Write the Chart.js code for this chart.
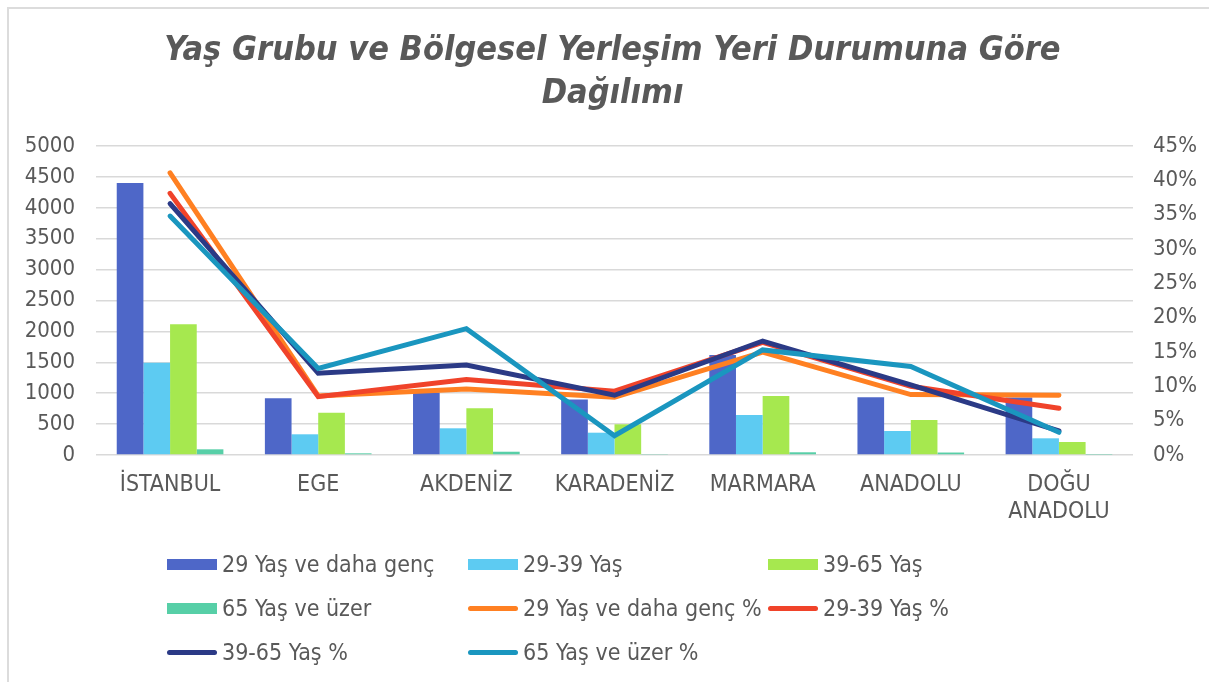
<!DOCTYPE html>
<html>
<head>
<meta charset="utf-8">
<script src="https://cdn.jsdelivr.net/npm/chart.js@4.4.1/dist/chart.umd.min.js"></script>
<style>
  html, body { margin: 0; padding: 0; background: #ffffff; }
  #wrap { position: relative; width: 1209px; height: 682px; overflow: hidden; }
  #frame { position: absolute; left: 7px; top: 7px; width: 1300px; height: 800px; border: 2px solid #dcdcdc; box-sizing: border-box; }
  #c { position: absolute; left: 0; top: 0; }
  #legend { position: absolute; left: 0; top: 0; width: 1209px; height: 682px; pointer-events: none;
            font-family: "DejaVu Sans Condensed", "DejaVu Sans", sans-serif; font-size: 23px; color: #595959; }
  .li { position: absolute; display: flex; align-items: center; height: 26px; white-space: nowrap; }
  .sw { width: 50px; margin-right: 5px; }
</style>
</head>
<body>
<div id="wrap">
  <div id="frame"></div>
  <canvas id="c" width="1209" height="682"></canvas>
  <div id="legend"></div>
</div>
<script>
const categories = ['İSTANBUL', 'EGE', 'AKDENİZ', 'KARADENİZ', 'MARMARA', 'ANADOLU', ['DOĞU', 'ANADOLU']];

const countYoung   = [4400, 917, 1010, 900, 1620, 934, 930];
const count29to39  = [1494, 335, 432, 361, 647, 388, 270];
const count39to65  = [2115, 685, 755, 497, 955, 566, 210];
const count65plus  = [92, 27, 53, 8, 44, 40, 6];

const pctYoung     = [41.1, 8.6, 9.6, 8.4, 15.0, 8.8, 8.7];
const pct29to39    = [38.1, 8.5, 11.0, 9.3, 16.4, 10.0, 6.8];
const pct39to65    = [36.6, 11.9, 13.1, 8.7, 16.6, 10.2, 3.5];
const pct65plus    = [34.8, 12.6, 18.4, 2.8, 15.3, 12.9, 3.3];

const leftTicksMax = 5000, leftStep = 500;
const rightTicksMax = 45, rightStep = 5;

const seriesNames = ['29 Yaş ve daha genç', '29-39 Yaş', '39-65 Yaş', '65 Yaş ve üzer',
                     '29 Yaş ve daha genç %', '29-39 Yaş %', '39-65 Yaş %', '65 Yaş ve üzer %'];

const textColor = '#595959';
const fontFam = '"DejaVu Sans Condensed", "DejaVu Sans", sans-serif';

function barDs(label, data, color) {
  return { type: 'bar', label, data, backgroundColor: color, borderWidth: 0,
           yAxisID: 'y', order: 10, barPercentage: 1.0, categoryPercentage: 0.72 };
}
function lineDs(label, data, color, order) {
  return { type: 'line', label, data, borderColor: color, backgroundColor: color,
           borderWidth: 5, pointRadius: 0, pointHoverRadius: 0, tension: 0,
           borderCapStyle: 'round', borderJoinStyle: 'miter', fill: false,
           yAxisID: 'y1', order };
}

const datasets = [
  barDs(seriesNames[0], countYoung, '#4E67C8'),
  barDs(seriesNames[1], count29to39, '#5DCBF2'),
  barDs(seriesNames[2], count39to65, '#A6E84F'),
  barDs(seriesNames[3], count65plus, '#57CFA7'),
  lineDs(seriesNames[4], pctYoung, '#FF8022', 4),
  lineDs(seriesNames[5], pct29to39, '#F0432A', 3),
  lineDs(seriesNames[6], pct39to65, '#2B3A86', 2),
  lineDs(seriesNames[7], pct65plus, '#1A96BF', 1)
];

const chart = new Chart(document.getElementById('c'), {
  data: { labels: categories, datasets },
  options: {
    responsive: false,
    animation: false,
    layout: { padding: { left: 16, right: 0, top: 0, bottom: 157 } },
    plugins: {
      legend: { display: false },
      tooltip: { enabled: false },
      title: {
        display: true,
        text: ['Yaş Grubu ve Bölgesel Yerleşim Yeri Durumuna Göre', 'Dağılımı'],
        color: textColor,
        font: { family: fontFam, size: 34, weight: 'bold', style: 'italic', lineHeight: 1.25 },
        padding: { top: 30, bottom: 31 }
      }
    },
    scales: {
      x: {
        grid: { display: false, drawTicks: false },
        border: { display: false },
        ticks: { color: textColor, font: { family: fontFam, size: 23, lineHeight: 1.2 }, padding: 16, maxRotation: 0, autoSkip: false },
        afterFit: (s) => { s.height = 70; }
      },
      y: {
        position: 'left',
        min: 0, max: leftTicksMax,
        ticks: { stepSize: leftStep, color: textColor, font: { family: fontFam, size: 22 }, padding: 21,
                 callback: (v) => String(v) },
        grid: { color: '#d9d9d9', lineWidth: 1.5, drawTicks: false },
        border: { display: false },
        afterFit: (s) => { s.width = 80; }
      },
      y1: {
        position: 'right',
        min: 0, max: rightTicksMax,
        ticks: { stepSize: rightStep, color: textColor, font: { family: fontFam, size: 22 }, padding: 20,
                 callback: (v) => Math.round(v) + '%' },
        grid: { display: false, drawTicks: false },
        border: { display: false },
        afterFit: (s) => { s.width = 76; }
      }
    }
  }
});

// Grid-style legend built from the chart's datasets
const legendEl = document.getElementById('legend');
const colX = [167, 468, 768];
const rowY = [564, 608, 652];
chart.data.datasets.forEach((ds, i) => {
  const item = document.createElement('div');
  item.className = 'li';
  item.style.left = colX[i % 3] + 'px';
  item.style.top = (rowY[Math.floor(i / 3)] - 13) + 'px';
  const sw = document.createElement('span');
  sw.className = 'sw';
  if (ds.type === 'bar') {
    sw.style.height = '11px';
    sw.style.background = ds.backgroundColor;
  } else {
    sw.style.height = '5px';
    sw.style.borderRadius = '3px';
    sw.style.background = ds.borderColor;
  }
  const tx = document.createElement('span');
  tx.textContent = ds.label;
  item.appendChild(sw);
  item.appendChild(tx);
  legendEl.appendChild(item);
});
</script>
</body>
</html>
